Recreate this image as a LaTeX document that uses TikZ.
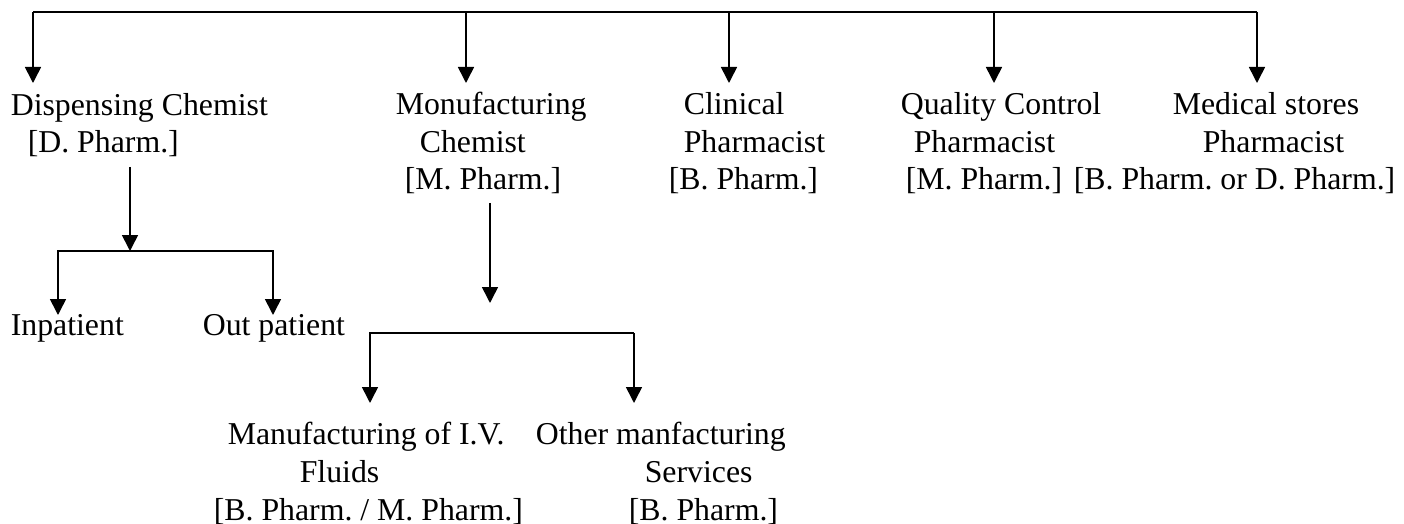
\documentclass[tikz,border=0pt]{standalone}
\usepackage{fontspec}
\setmainfont{Liberation Serif}
\usetikzlibrary{arrows.meta}
\usetikzlibrary{calc}
\frenchspacing

\begin{document}
\begin{tikzpicture}[x=0.5pt,y=-0.5pt,line width=0.8pt,arr/.style={-{Triangle[length=8pt,width=8pt]}},post node/.style={anchor=base west,inner sep=0pt,align=left,font=\fontsize{15.9}{18.8}\selectfont}]
				\useasboundingbox (0,0) rectangle (1404,524);

				% base anchor sits on the last line
				\node[post node] (disp) at (10,153) {Dispensing Chemist\\\hspace*{8.5pt}[D. Pharm.]};
				\node[post node] (monu) at (395,190) {Monufacturing\\\hspace*{12pt}Chemist\\\hspace*{4.5pt}[M. Pharm.]};
				\node[post node] (clin) at (668,190) {\hspace*{7.5pt}Clinical\\\hspace*{7.5pt}Pharmacist\\{}[B. Pharm.]};
				\node[post node] (qc) at (900,190) {Quality Control\\\hspace*{6.5pt}Pharmacist\\\hspace*{2.5pt}[M. Pharm.]};
				\node[post node] (med) at (1073,190) {\hspace*{49.5pt}Medical stores\\\hspace*{64.5pt}Pharmacist\\{}[B. Pharm. or D. Pharm.]};
				\node[post node] (inp) at (10,335) {Inpatient};
				\node[post node] (outp) at (202,335) {Out patient};
				\node[post node] (ivf) at (213,520) {\hspace*{7pt}Manufacturing of I.V.\\\hspace*{43pt}Fluids\\{}[B. Pharm. / M. Pharm.]};
				\node[post node] (oth) at (535,520) {Other manfacturing\\\hspace*{54.5pt}Services\\\hspace*{46.5pt}[B. Pharm.]};

				% top bar
				\coordinate (topL) at (33,12);
				\coordinate (topR) at (1257,12);
				\coordinate (dispIn) at (33,83);
				\coordinate (monuIn) at (466,83);
				\coordinate (clinIn) at (729,83);
				\coordinate (qcIn) at (994,83);
				\coordinate (medIn) at (1257,83);
				\draw (topL) -- (topR);
				\foreach \c in {dispIn,monuIn,clinIn,qcIn,medIn}
					\draw[arr] (\c |- topL) -- (\c);

				% dispensing
				\coordinate (dispOut) at (130,167);
				\coordinate (dispJoin) at (130,251);
				\coordinate (inpIn) at (58,315);
				\coordinate (outpIn) at (273,315);
				\draw[arr] (dispOut) -- (dispJoin);
				\draw[arr] (dispJoin) -| (inpIn);
				\draw[arr] (dispJoin) -| (outpIn);

				% manufacturing
				\coordinate (monuOut) at (490,203);
				\coordinate (monuTip) at (490,303);
				\coordinate (ivfBar) at (370,333);
				\coordinate (othBar) at (634,333);
				\coordinate (ivfIn) at (370,403);
				\coordinate (othIn) at (634,403);
				\draw[arr] (monuOut) -- (monuTip);
				\draw[arr] (othBar) -- (ivfBar) -- (ivfIn);
				\draw[arr] (othBar) -- (othIn);

\end{tikzpicture}
\end{document}
